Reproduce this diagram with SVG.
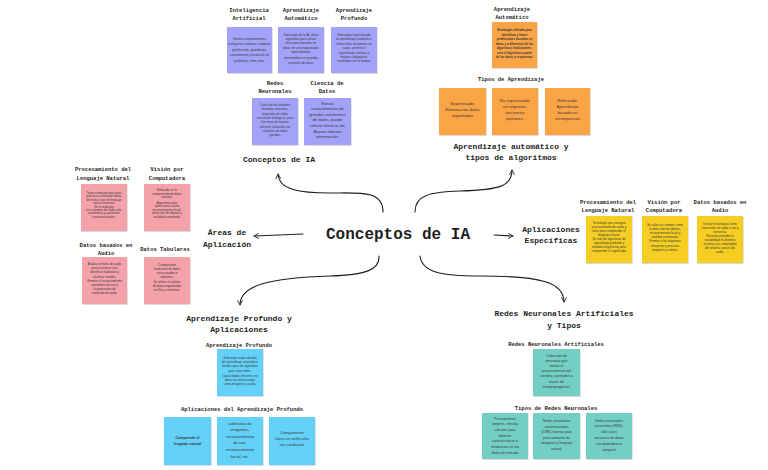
<svg xmlns="http://www.w3.org/2000/svg" width="768" height="470" viewBox="0 0 768 470">
<defs>
<filter id="sh" x="-10%" y="-10%" width="130%" height="130%"><feDropShadow dx="0.6" dy="0.8" stdDeviation="0.6" flood-color="#000" flood-opacity="0.18"/></filter>
<marker id="ah" viewBox="0 0 10 10" refX="8.5" refY="5" markerWidth="5.5" markerHeight="5.5" orient="auto" markerUnits="strokeWidth"><path d="M1,1 L8.5,5 L1,9" fill="none" stroke="#1e1e1e" stroke-width="1.4" stroke-linecap="round" stroke-linejoin="round"/></marker>
<style>
.t{font-family:"Liberation Mono","DejaVu Sans Mono",monospace;font-weight:bold;fill:#1e1e1e;text-anchor:middle}
.h{font-size:5.5px}
.m{font-size:8px}
.big{font-size:16px}
.b{font-family:"Liberation Sans",Arial,sans-serif;fill:#3a3a3a;text-anchor:middle;font-size:3px}
.b4{font-size:4.2px}
.bb{font-weight:bold}
.n{filter:url(#sh)}
.pu{fill:#a2a2f8}.or{fill:#fba444}.pk{fill:#f4a1a9}.ye{fill:#f6cd24}.bl{fill:#63d1f8}.te{fill:#73cfc4}
.c{fill:none;stroke:#1e1e1e;stroke-width:1.1;stroke-linecap:round;marker-end:url(#ah)}
</style>
</defs>
<rect width="768" height="470" fill="#ffffff"/>

<g id="connectors">
<path class="c" d="M383,212 C383,190 360,193 330,193 C300,193 279,190 278,174"/>
<path class="c" d="M415,212 C415,195 430,192 460,191 C500,190 512,186 512,170"/>
<path class="c" d="M303,234 L254,236"/>
<path class="c" d="M494,235 L513,236"/>
<path class="c" d="M379,256 C380,270 365,275 330,276 C270,278 240,285 240,305"/>
<path class="c" d="M420,256 C422,272 440,276 480,276 C540,276 564,282 564,302"/>
</g>

<g id="main"><text class="t big" x="398" y="239">Conceptos de IA</text></g>

<g id="conceptos-ia"><text class="t m" x="279" y="162">Conceptos de IA</text></g>
<g id="aprendizaje-tipos"><text class="t m" x="511" y="149">Aprendizaje automático y</text><text class="t m" x="511" y="160">tipos de algoritmos</text></g>
<g id="areas"><text class="t m" x="227" y="235">Áreas de</text><text class="t m" x="227" y="247">Aplicación</text></g>
<g id="aplicaciones"><text class="t m" x="551" y="232">Aplicaciones</text><text class="t m" x="551" y="243">Específicas</text></g>
<g id="profundo-apps"><text class="t m" x="239" y="321">Aprendizaje Profundo y</text><text class="t m" x="239" y="332">Aplicaciones</text></g>
<g id="redes-tipos"><text class="t m" x="564" y="316">Redes Neuronales Artificiales</text><text class="t m" x="564" y="328">y Tipos</text></g>

<!-- Purple -->
<g id="ia">
<text class="t h" x="249" y="12">Inteligencia</text><text class="t h" x="249" y="19.5">Artificial</text>
<rect class="n pu" x="227" y="27" width="45" height="46"/>
<text class="b" x="249.5" y="39.5"><tspan x="249.5">Simula comportamientos</tspan><tspan x="249.5" dy="5.5">inteligentes humanos, mediante</tspan><tspan x="249.5" dy="5.5">planificación, aprendizaje,</tspan><tspan x="249.5" dy="5.5">razonamiento y resolución de</tspan><tspan x="249.5" dy="5.5">problemas, entre otros.</tspan></text>
</g>
<g id="aa">
<text class="t h" x="301" y="12">Aprendizaje</text><text class="t h" x="301" y="19.5">Automático</text>
<rect class="n pu" x="278" y="27" width="46" height="46"/>
<text class="b" x="301" y="36"><tspan x="301">Subcampo de la IA, utiliza</tspan><tspan x="301" dy="4.2">algoritmos para extraer</tspan><tspan x="301" dy="4.2">decisiones basadas en</tspan><tspan x="301" dy="4.2">datos sin ser programados</tspan><tspan x="301" dy="4.2">explícitamente,</tspan><tspan x="301" dy="6.5">entrenándose en grandes</tspan><tspan x="301" dy="4.2">conjuntos de datos.</tspan></text>
</g>
<g id="ap">
<text class="t h" x="354" y="12">Aprendizaje</text><text class="t h" x="354" y="19.5">Profundo</text>
<rect class="n pu" x="331" y="27" width="46" height="46"/>
<text class="b" x="354" y="36"><tspan x="354">Subcampo especializado</tspan><tspan x="354" dy="4.4">de aprendizaje automático,</tspan><tspan x="354" dy="4.4">utiliza redes neuronales en</tspan><tspan x="354" dy="4.4">capas, permite el</tspan><tspan x="354" dy="4.4">aprendizaje continuo y</tspan><tspan x="354" dy="4.4">mejoras adaptativas</tspan><tspan x="354" dy="4.4">resultados con el tiempo.</tspan></text>
</g>
<g id="rn">
<text class="t h" x="275" y="85">Redes</text><text class="t h" x="275" y="93">Neuronales</text>
<rect class="n pu" x="252" y="98" width="46" height="47"/>
<text class="b" x="275" y="106"><tspan x="275">Colección de unidades</tspan><tspan x="275" dy="4.3">llamadas neuronas,</tspan><tspan x="275" dy="4.3">inspiradas en redes</tspan><tspan x="275" dy="4.3">neuronales biológicas, para</tspan><tspan x="275" dy="4.3">funcionar de manera</tspan><tspan x="275" dy="4.3">eficiente utilizando con</tspan><tspan x="275" dy="4.3">conjuntos de datos</tspan><tspan x="275" dy="4.3">grandes.</tspan></text>
</g>
<g id="cd">
<text class="t h" x="327" y="85">Ciencia de</text><text class="t h" x="327" y="93">Datos</text>
<rect class="n pu" x="304" y="98" width="47" height="47"/>
<text class="b b4" x="327.5" y="104.5"><tspan x="327.5">Extrae</tspan><tspan x="327.5" dy="5.6">conocimientos de</tspan><tspan x="327.5" dy="5.6">grandes volúmenes</tspan><tspan x="327.5" dy="5.6">de datos, puede</tspan><tspan x="327.5" dy="5.6">utilizar técnicas de</tspan><tspan x="327.5" dy="5.6">IA para obtener</tspan><tspan x="327.5" dy="5.6">información.</tspan></text>
</g>

<!-- Orange -->
<g id="aa2">
<text class="t h" x="512" y="11">Aprendizaje</text><text class="t h" x="512" y="19">Automático</text>
<rect class="n or" x="492" y="22" width="45" height="46"/>
<text class="b bb" x="514.5" y="31"><tspan x="514.5">Estrategia utilizada para</tspan><tspan x="514.5" dy="4.5">identificar y hacer</tspan><tspan x="514.5" dy="4.5">predicciones basadas en</tspan><tspan x="514.5" dy="4.5">datos y a diferencia de los</tspan><tspan x="514.5" dy="4.5">algoritmos tradicionales,</tspan><tspan x="514.5" dy="4.5">crea el algoritmo a partir</tspan><tspan x="514.5" dy="4.5">de los datos y respuestas.</tspan></text>
</g>
<g id="tipos-aprendizaje">
<text class="t h" x="511" y="81">Tipos de Aprendizaje</text>
<rect class="n or" x="439" y="88" width="47" height="47"/>
<text class="b b4" x="462.5" y="104.5"><tspan x="462.5">Supervisado:</tspan><tspan x="462.5" dy="6">Entrena con datos</tspan><tspan x="462.5" dy="6">etiquetados</tspan></text>
<rect class="n or" x="492" y="88" width="46" height="47"/>
<text class="b b4" x="515" y="101.5"><tspan x="515">No supervisado:</tspan><tspan x="515" dy="6.2">sin etiquetas,</tspan><tspan x="515" dy="6.2">encuentra</tspan><tspan x="515" dy="6.2">patrones.</tspan></text>
<rect class="n or" x="545" y="88" width="45" height="47"/>
<text class="b b4" x="567.5" y="101.5"><tspan x="567.5">Reforzado:</tspan><tspan x="567.5" dy="6.2">Aprendizaje</tspan><tspan x="567.5" dy="6.2">basado en</tspan><tspan x="567.5" dy="6.2">recompensas</tspan></text>
</g>

<!-- Pink -->
<g id="pln1">
<text class="t h" x="103" y="171">Procesamiento del</text><text class="t h" x="103" y="179.5">Lenguaje Natural</text>
<rect class="n pk" x="81" y="184" width="46" height="47"/>
<text class="b" x="104" y="194"><tspan x="104">Tarea computacional para</tspan><tspan x="104" dy="3.4">procesar y entender datos</tspan><tspan x="104" dy="3.4">de texto o voz en lenguaje</tspan><tspan x="104" dy="3.4">natural humano.</tspan><tspan x="104" dy="3.4">Se le atribuyen</tspan><tspan x="104" dy="3.4">los sistemas de traducción</tspan><tspan x="104" dy="3.4">automática y asistentes</tspan><tspan x="104" dy="3.4">conversacionales.</tspan></text>
</g>
<g id="vision1">
<text class="t h" x="167" y="171">Visión por</text><text class="t h" x="167" y="179.5">Computadora</text>
<rect class="n pk" x="144" y="184" width="46" height="47"/>
<text class="b" x="167" y="191"><tspan x="167">Enfocada en la</tspan><tspan x="167" dy="3.5">comprensión de datos</tspan><tspan x="167" dy="3.5">visuales.</tspan><tspan x="167" dy="5.5">Algoritmos para</tspan><tspan x="167" dy="3.5">aplicaciones como</tspan><tspan x="167" dy="3.5">reconocimiento facial,</tspan><tspan x="167" dy="3.5">detección de objetos y</tspan><tspan x="167" dy="3.5">realidad aumentada.</tspan></text>
</g>
<g id="audio1">
<text class="t h" x="106" y="247">Datos basados en</text><text class="t h" x="106" y="254.5">Audio</text>
<rect class="n pk" x="82" y="257" width="45" height="47"/>
<text class="b" x="104.5" y="265"><tspan x="104.5">Analiza señales de audio</tspan><tspan x="104.5" dy="4.2">para reconocer voz,</tspan><tspan x="104.5" dy="4.2">identificar hablantes y</tspan><tspan x="104.5" dy="4.2">clasificar sonidos.</tspan><tspan x="104.5" dy="4.2">Permite el reconocimiento</tspan><tspan x="104.5" dy="4.2">automático de voz y</tspan><tspan x="104.5" dy="4.2">la generación de</tspan><tspan x="104.5" dy="4.2">contenido de audio.</tspan></text>
</g>
<g id="tabulares">
<text class="t h" x="165" y="251">Datos Tabulares</text>
<rect class="n pk" x="144" y="257" width="46" height="47"/>
<text class="b" x="167" y="265.5"><tspan x="167">Comprensión</tspan><tspan x="167" dy="4.2">tradicional de datos</tspan><tspan x="167" dy="4.2">estructurados o</tspan><tspan x="167" dy="4.2">tabulares.</tspan><tspan x="167" dy="4.8">Se refiere al análisis</tspan><tspan x="167" dy="4.2">de datos organizados</tspan><tspan x="167" dy="4.2">en filas y columnas.</tspan></text>
</g>

<!-- Yellow -->
<g id="pln2">
<text class="t h" x="608" y="204">Procesamiento del</text><text class="t h" x="608" y="211.5">Lenguaje Natural</text>
<rect class="n ye" x="586" y="216" width="46" height="47"/>
<text class="b" x="609" y="223.5"><tspan x="609">Tecnología que consigue</tspan><tspan x="609" dy="4">procesamiento de audio y</tspan><tspan x="609" dy="4">texto para comprender el</tspan><tspan x="609" dy="4">lenguaje natural.</tspan><tspan x="609" dy="4">Se vale de algoritmos de</tspan><tspan x="609" dy="4">aprendizaje profundo y</tspan><tspan x="609" dy="4">modelos lingüísticos para</tspan><tspan x="609" dy="4">comprender el significado.</tspan></text>
</g>
<g id="vision2">
<text class="t h" x="664" y="204">Visión por</text><text class="t h" x="664" y="211.5">Computadora</text>
<rect class="n ye" x="642" y="216" width="46" height="47"/>
<text class="b" x="665" y="225.5"><tspan x="665">Se utiliza en campos como</tspan><tspan x="665" dy="4.2">la detección de objetos,</tspan><tspan x="665" dy="4.2">reconocimiento facial y</tspan><tspan x="665" dy="4.2">realidad aumentada.</tspan><tspan x="665" dy="4.2">Permite a las máquinas</tspan><tspan x="665" dy="4.2">interpretar y procesar</tspan><tspan x="665" dy="4.2">imágenes y videos.</tspan></text>
</g>
<g id="audio2">
<text class="t h" x="720" y="204">Datos basados en</text><text class="t h" x="720" y="211.5">Audio</text>
<rect class="n ye" x="697" y="216" width="46" height="47"/>
<text class="b" x="720" y="224.5"><tspan x="720">Incluye tecnologías como</tspan><tspan x="720" dy="4">conversión de audio a voz y</tspan><tspan x="720" dy="4">viceversa.</tspan><tspan x="720" dy="4.6">Necesita entender la</tspan><tspan x="720" dy="4">variabilidad en distintos</tspan><tspan x="720" dy="4">acentos y la complejidad</tspan><tspan x="720" dy="4">del entorno sonoro del</tspan><tspan x="720" dy="4">audio.</tspan></text>
</g>

<!-- Blue -->
<g id="dl">
<text class="t h" x="239" y="347">Aprendizaje Profundo</text>
<rect class="n bl" x="217" y="349" width="46" height="47"/>
<text class="b" x="240" y="359"><tspan x="240">Subcampo especializado</tspan><tspan x="240" dy="4.2">del aprendizaje automático,</tspan><tspan x="240" dy="4.2">donde capas de algoritmos</tspan><tspan x="240" dy="4.2">para crear redes.</tspan><tspan x="240" dy="5">Capacidades eficientes en</tspan><tspan x="240" dy="4.2">datos no estructurados</tspan><tspan x="240" dy="4.2">como imágenes y audio.</tspan></text>
</g>
<g id="dl-apps">
<text class="t h" x="242" y="411">Aplicaciones del Aprendizaje Profundo</text>
<rect class="n bl" x="164" y="417" width="47" height="48"/>
<text class="b bb" x="187.5" y="438.5" style="font-size:3.6px"><tspan x="187.5">Comprende el</tspan><tspan x="187.5" dy="6">lenguaje natural</tspan></text>
<rect class="n bl" x="217" y="417" width="46" height="48"/>
<text class="b b4" x="240" y="424.5"><tspan x="240">subtítulos de</tspan><tspan x="240" dy="6.6">imágenes,</tspan><tspan x="240" dy="6.6">reconocimiento</tspan><tspan x="240" dy="6.6">de voz,</tspan><tspan x="240" dy="6.6">reconocimiento</tspan><tspan x="240" dy="6.6">facial, etc.</tspan></text>
<rect class="n bl" x="269" y="417" width="46" height="48"/>
<text class="b b4" x="292" y="433.5"><tspan x="292">Componente</tspan><tspan x="292" dy="6.4">clave en vehículos</tspan><tspan x="292" dy="6.4">sin conductor</tspan></text>
</g>

<!-- Teal -->
<g id="ann">
<text class="t h" x="556" y="346">Redes Neuronales Artificiales</text>
<rect class="n te" x="533" y="349" width="47" height="47"/>
<text class="b" x="556.5" y="356.5" style="font-size:3.6px"><tspan x="556.5">Colección de</tspan><tspan x="556.5" dy="5.2">neuronas que</tspan><tspan x="556.5" dy="5.2">imitan el</tspan><tspan x="556.5" dy="5.2">procesamiento del</tspan><tspan x="556.5" dy="5.2">cerebro, aprenden a</tspan><tspan x="556.5" dy="5.2">través de</tspan><tspan x="556.5" dy="5.2">retropropagación.</tspan></text>
</g>
<g id="tipos-redes">
<text class="t h" x="556" y="410">Tipos de Redes Neuronales</text>
<rect class="n te" x="482" y="413" width="46" height="46"/>
<text class="b" x="505" y="419.5" style="font-size:3.6px"><tspan x="505">Perceptrones</tspan><tspan x="505" dy="5.7">simples, efectúa</tspan><tspan x="505" dy="5.7">cálculos para</tspan><tspan x="505" dy="5.7">detectar</tspan><tspan x="505" dy="5.7">características o</tspan><tspan x="505" dy="5.7">tendencias en los</tspan><tspan x="505" dy="5.7">datos de entrada</tspan></text>
<rect class="n te" x="533" y="413" width="47" height="46"/>
<text class="b" x="556.5" y="422" style="font-size:3.4px"><tspan x="556.5">Redes neuronales</tspan><tspan x="556.5" dy="5.6">convolucionales</tspan><tspan x="556.5" dy="5.6">(CNN), buenas para</tspan><tspan x="556.5" dy="5.6">procesamiento de</tspan><tspan x="556.5" dy="5.6">imágenes y lenguaje</tspan><tspan x="556.5" dy="5.6">natural</tspan></text>
<rect class="n te" x="586" y="413" width="46" height="46"/>
<text class="b" x="609" y="421.5" style="font-size:3.4px"><tspan x="609">Redes neuronales</tspan><tspan x="609" dy="5.8">recurrentes (RNN),</tspan><tspan x="609" dy="5.8">útiles para</tspan><tspan x="609" dy="5.8">secuencia de datos</tspan><tspan x="609" dy="5.8">con dependencia</tspan><tspan x="609" dy="5.8">temporal</tspan></text>
</g>
</svg>
